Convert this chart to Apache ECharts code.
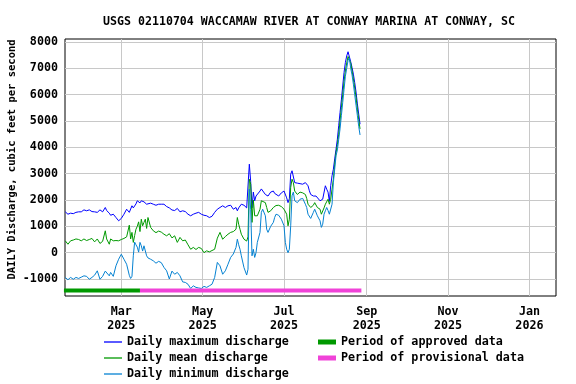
<!DOCTYPE html>
<html>
<head>
<meta charset="utf-8">
<script src="https://cdn.jsdelivr.net/npm/echarts@6/dist/echarts.min.js"></script>
<style>
html,body{margin:0;padding:0;background:#fff;}
#chart{width:576px;height:384px;}
</style>
</head>
<body>
<div id="chart"></div>
<script>
// Day offsets counted from 2025-01-18
const dayOffsets = [0,2,4,6,8,10,12,14,16,18,20,22,24,26,28,30,31,33,34,36,38,40,42,44,46,48,49,50,51,52,53,54,55,56,57,58,59,60,61,62,64,66,68,70,72,74,76,78,80,82,84,86,88,90,92,94,96,98,100,102,104,106,108,110,112,114,116,118,120,122,124,126,128,129,130,131,132,134,136,137,138,139,140,141,142,143,144,146,147,148,150,151,152,154,156,157,158,160,162,164,165,166,167,168,169,170,171,172,173,174,176,178,180,181,182,183,184,186,187,188,189,191,192,193,194,195,196,197,198,199,200,201,202,203,204,205,206,207,208,209,210,211,212,213,214,215,216,217,218,219,220,221];

const dailyMax = [1550,1460,1500,1480,1530,1550,1550,1625,1590,1625,1560,1550,1530,1625,1550,1715,1600,1500,1420,1460,1335,1210,1300,1460,1650,1530,1600,1780,1700,1680,1850,1970,2000,1890,1970,1960,1930,1900,1840,1860,1880,1840,1800,1840,1840,1840,1750,1700,1620,1600,1680,1550,1590,1560,1460,1400,1460,1500,1530,1460,1420,1400,1335,1380,1530,1650,1715,1780,1715,1780,1800,1650,1715,1590,1700,1750,1840,1800,1700,1650,3360,2700,1700,2300,1970,2150,2080,2340,2420,2380,2210,2150,2150,2300,2340,2250,2210,2150,2270,2340,2300,2080,1900,2050,2980,3110,3070,2660,2680,2640,2620,2600,2660,2600,2540,2350,2210,2150,2210,2150,2080,1970,1900,2030,2100,2540,2410,2300,1950,2540,2920,3170,3560,3930,4310,4820,5320,5800,6330,6840,7220,7470,7630,7580,7250,7030,6780,6460,6100,5650,5260,4880];

const dailyMean = [450,320,450,480,520,500,450,520,460,500,540,410,520,350,430,830,520,320,520,450,460,450,500,540,600,1045,520,770,390,650,890,1000,1170,800,1270,1020,1150,1270,920,1335,960,830,760,820,780,700,640,720,560,640,390,580,450,480,300,130,200,120,200,160,0,70,30,80,130,550,770,510,610,700,770,800,890,1335,1080,890,700,510,440,600,2790,2600,1150,2000,1400,1460,1400,1650,1970,2030,1900,1715,1530,1590,1715,1780,1790,1800,1750,1650,1600,1460,1020,1270,2480,2790,2660,2340,2270,2210,2300,2270,2210,2060,1840,1780,1715,1800,1900,1840,1715,1650,1460,1530,1700,1840,1900,2030,1840,2030,2410,2790,3360,3800,4100,4500,5000,5500,6000,6500,6900,7200,7450,7500,7200,6900,6600,6250,5900,5450,5050,4700];

const dailyMin = [-940,-1030,-940,-1010,-940,-980,-930,-880,-900,-1010,-940,-855,-690,-1010,-900,-700,-630,-880,-750,-900,-500,-250,-60,-250,-440,-860,-980,-900,-120,400,300,210,20,390,260,60,260,320,-120,-200,-250,-310,-400,-330,-380,-560,-690,-1000,-700,-820,-750,-880,-1110,-1130,-1200,-1360,-1260,-1320,-1340,-1360,-1280,-1320,-1260,-1200,-940,-370,-500,-820,-690,-440,-180,-50,200,510,300,130,-120,-570,-850,-630,2410,1650,-120,130,-180,0,390,770,1530,1650,1400,890,770,1000,1150,1340,1460,1420,1270,1020,390,130,0,130,1020,2160,2300,1970,2030,1900,2030,2060,1840,1715,1460,1400,1300,1530,1650,1590,1400,1210,960,1080,1460,1590,1715,1600,1460,1500,1840,2660,3170,3680,3900,4300,4700,5200,5700,6200,6700,7000,7300,7400,7000,6750,6400,6000,5600,5200,4800,4470];

// Approval periods [start, end] as [year, monthIndex, day]
const approvedPeriod = [[2025,0,17],[2025,2,15]];
const provisionalPeriod = [[2025,2,15],[2025,7,28]];

// Axis ticks
const xTickDates = [[2025,2,1],[2025,4,1],[2025,6,1],[2025,8,1],[2025,10,1],[2026,0,1]];
const yTicks = [-1000,0,1000,2000,3000,4000,5000,6000,7000,8000];
const monthNames = ['Jan','Feb','Mar','Apr','May','Jun','Jul','Aug','Sep','Oct','Nov','Dec'];

const FONT = 'DejaVu Sans Mono';
const BAR_LEVEL = -1440;

function dayTime(off){ return new Date(2025,0,18+off).getTime(); }
function ymd(a){ return new Date(a[0],a[1],a[2]).getTime(); }
function pairs(vals){ return dayOffsets.map((d,i)=>[dayTime(d), vals[i]]); }
function period(p){ return [[ymd(p[0]),BAR_LEVEL],[ymd(p[1]),BAR_LEVEL]]; }

const chart = echarts.init(document.getElementById('chart'), null, {renderer:'canvas'});
const txt = {fontFamily:FONT, fontWeight:'bold', fontSize:11.7, color:'#000'};

const lineBase = {type:'line', showSymbol:false, symbol:'none', animation:false, silent:true};

chart.setOption({
  backgroundColor:'#fff',
  animation:false,
  title:{
    text:'USGS 02110704 WACCAMAW RIVER AT CONWAY MARINA AT CONWAY, SC',
    left:304, top:11, textAlign:'center',
    textStyle:{fontFamily:FONT, fontWeight:'bold', fontSize:11.6, color:'#000'}
  },
  grid:{left:65, right:20, top:39, bottom:88, containLabel:false, outerBoundsMode:'none',
        show:true, borderColor:'#000', borderWidth:1, backgroundColor:'transparent'},
  xAxis:{
    type:'value',
    min:new Date(2025,0,17,19).getTime(),
    max:new Date(2026,0,20,22).getTime(),
    axisLine:{show:false},
    axisTick:{show:false, customValues:xTickDates.map(ymd)},
    splitLine:{show:true, lineStyle:{color:'#c8c8c8', width:1}},
    axisLabel:{
      customValues:xTickDates.map(ymd),
      margin:9,
      lineHeight:14,
      fontFamily:FONT, fontWeight:'bold', fontSize:11.7, color:'#000',
      formatter:function(v){ const d=new Date(v); return monthNames[d.getMonth()]+'\n'+d.getFullYear(); }
    }
  },
  yAxis:{
    type:'value',
    min:-1646, max:8114,
    name:'DAILY Discharge, cubic feet per second',
    nameLocation:'middle',
    nameGap:47,
    nameMoveOverlap:false,
    nameTextStyle:{fontFamily:FONT, fontWeight:'bold', fontSize:10.5, color:'#000', padding:[0,0,0,16]},
    axisLine:{show:false},
    axisTick:{show:false, customValues:yTicks},
    splitLine:{show:true, lineStyle:{color:'#c8c8c8', width:1}},
    axisLabel:{customValues:yTicks, margin:7, fontFamily:FONT, fontWeight:'bold', fontSize:11.7, color:'#000',
               formatter:function(v){ return String(Math.round(v)); }}
  },
  legend:[
    {
      orient:'vertical', left:104, top:334, padding:0, itemGap:0,
      icon:'rect', itemWidth:18, itemHeight:1.3,
      textStyle:Object.assign({lineHeight:16}, txt),
      data:['Daily maximum discharge','Daily mean discharge','Daily minimum discharge']
    },
    {
      orient:'vertical', left:318, top:334, padding:0, itemGap:0,
      icon:'rect', itemWidth:18, itemHeight:5,
      textStyle:Object.assign({lineHeight:16}, txt),
      data:['Period of approved data','Period of provisional data']
    }
  ],
  series:[
    Object.assign({}, lineBase, {name:'Daily maximum discharge', data:pairs(dailyMax), lineStyle:{color:'#0000ff', width:1}, itemStyle:{color:'#0000ff'}}),
    Object.assign({}, lineBase, {name:'Daily mean discharge', data:pairs(dailyMean), lineStyle:{color:'#009900', width:1}, itemStyle:{color:'#009900'}}),
    Object.assign({}, lineBase, {name:'Daily minimum discharge', data:pairs(dailyMin), lineStyle:{color:'#0582d2', width:1}, itemStyle:{color:'#0582d2'}}),
    Object.assign({}, lineBase, {name:'Period of approved data', data:period(approvedPeriod), lineStyle:{color:'#009900', width:4}, itemStyle:{color:'#009900'}, z:3}),
    Object.assign({}, lineBase, {name:'Period of provisional data', data:period(provisionalPeriod), lineStyle:{color:'#f043d8', width:4}, itemStyle:{color:'#f043d8'}, z:3})
  ]
});
</script>
</body>
</html>
